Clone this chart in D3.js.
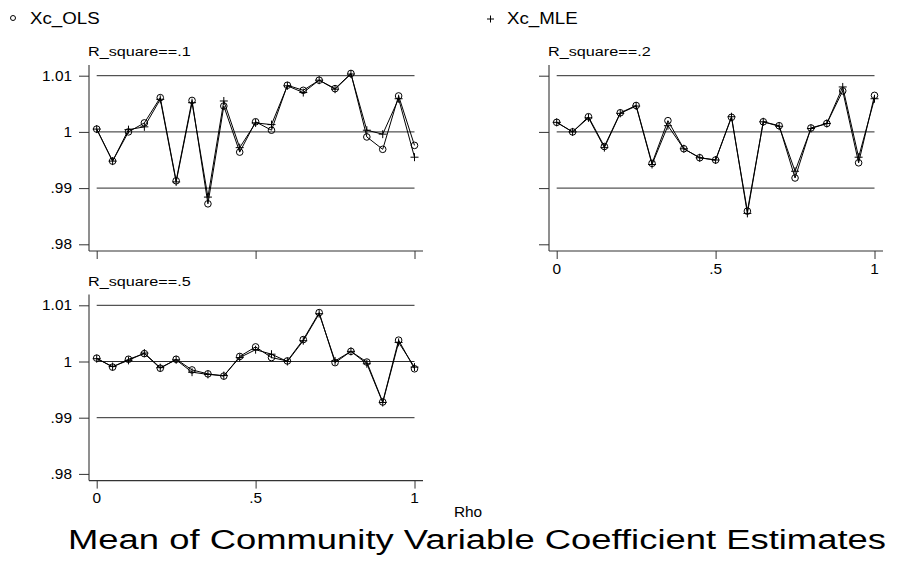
<!DOCTYPE html>
<html>
<head>
<meta charset="utf-8">
<script src="https://cdn.jsdelivr.net/npm/d3@7"></script>
<style>
  html, body { margin: 0; padding: 0; background: #fff; }
  svg { display: block; }
  text { font-family: "Liberation Sans", Arial, Helvetica, sans-serif; fill: #000; }
</style>
</head>
<body>
<svg id="chart" width="903" height="571"></svg>
<script>
// Rho values on the x axis
const rho = [0, 0.05, 0.1, 0.15, 0.2, 0.25, 0.3, 0.35, 0.4, 0.45, 0.5,
             0.55, 0.6, 0.65, 0.7, 0.75, 0.8, 0.85, 0.9, 0.95, 1];

// Mean coefficient estimates, R_square == .1
const ols_r1 = [1.0005, 0.9948, 1.0000, 1.0016, 1.0061, 0.9913, 1.0056, 0.9872, 1.0046, 0.9964, 1.0018,
                1.0003, 1.0083, 1.0074, 1.0092, 1.0077, 1.0104, 0.9991, 0.9969, 1.0064, 0.9976];
const mle_r1 = [1.0005, 0.9948, 1.0004, 1.0009, 1.0058, 0.9911, 1.0052, 0.9884, 1.0055, 0.9972, 1.0016,
                1.0013, 1.0082, 1.0070, 1.0092, 1.0076, 1.0103, 1.0003, 0.9996, 1.0059, 0.9955];

// R_square == .2
const ols_r2 = [1.0017, 1.0000, 1.0027, 0.9974, 1.0034, 1.0047, 0.9944, 1.0020, 0.9970, 0.9954, 0.9950,
                1.0026, 0.9859, 1.0018, 1.0011, 0.9918, 1.0007, 1.0015, 1.0073, 0.9945, 1.0065];
const mle_r2 = [1.0017, 1.0000, 1.0025, 0.9972, 1.0033, 1.0046, 0.9942, 1.0011, 0.9970, 0.9954, 0.9950,
                1.0027, 0.9855, 1.0018, 1.0010, 0.9930, 1.0006, 1.0015, 1.0080, 0.9955, 1.0059];

// R_square == .5
const ols_r5 = [1.0006, 0.9990, 1.0004, 1.0014, 0.9988, 1.0004, 0.9985, 0.9978, 0.9974, 1.0009, 1.0026,
                1.0007, 1.0001, 1.0039, 1.0087, 0.9998, 1.0018, 0.9999, 0.9928, 1.0038, 0.9987];
const mle_r5 = [1.0005, 0.9991, 1.0002, 1.0015, 0.9989, 1.0003, 0.9981, 0.9977, 0.9975, 1.0007, 1.0021,
                1.0013, 1.0000, 1.0037, 1.0085, 1.0001, 1.0018, 0.9996, 0.9927, 1.0034, 0.9990];

// Axis ticks and labels
const yTicks = [0.98, 0.99, 1, 1.01];
const yTickLabels = [".98", ".99", "1", "1.01"];
const yGrid = [0.99, 1, 1.01];
const xTicks = [0, 0.5, 1];
const xTickLabels = ["0", ".5", "1"];

const panelTitles = ["R_square==.1", "R_square==.2", "R_square==.5"];
const legendLabels = ["Xc_OLS", "Xc_MLE"];
const xTitle = "Rho";
const mainTitle = "Mean of Community Variable Coefficient Estimates";

const svg = d3.select("#chart");
svg.append("rect").attr("width", 903).attr("height", 571).attr("fill", "#fff");

// horizontally stretched text helper
function label(g, x, y, str, size, anchor, sx) {
  return g.append("text")
    .attr("transform", `translate(${x},${y}) scale(${sx},1)`)
    .attr("text-anchor", anchor)
    .style("font-size", size + "px")
    .text(str);
}

const panels = [
  { title: panelTitles[0], ols: ols_r1, mle: mle_r1, ox: 0,   oy: 0,     yLabels: true,  xLabels: false },
  { title: panelTitles[1], ols: ols_r2, mle: mle_r2, ox: 460, oy: 0,     yLabels: false, xLabels: true  },
  { title: panelTitles[2], ols: ols_r5, mle: mle_r5, ox: 0,   oy: 229.6, yLabels: true,  xLabels: true  }
];

const axisColor = "#333";
const gridColor = "#2a2a2a";

panels.forEach(p => {
  const g = svg.append("g").attr("transform", `translate(${p.ox},${p.oy})`);
  const x = d3.scaleLinear().domain([0, 1]).range([96.7, 414.5]);
  const y = d3.scaleLinear().domain([0.98, 1.01]).range([244.3, 75.7]);
  const axX = 89, axBottom = 251, axTop = 65, axRight = 423;

  // panel title
  label(g, 88, 56, p.title, 13.5, "start", 1.2);

  // grid lines
  g.selectAll("line.grid").data(yGrid).enter().append("line")
    .attr("x1", x(0)).attr("x2", x(1))
    .attr("y1", d => y(d)).attr("y2", d => y(d))
    .attr("stroke", gridColor).attr("stroke-width", 1);

  // y axis
  const yAxis = d3.axisLeft(y).tickValues(yTicks).tickSize(10).tickFormat("");
  const ya = g.append("g").attr("transform", `translate(${axX},0)`).call(yAxis);
  ya.select(".domain").remove();
  ya.selectAll(".tick line").attr("stroke", axisColor);
  ya.selectAll(".tick text").remove();
  g.append("line").attr("x1", axX).attr("x2", axX).attr("y1", axTop).attr("y2", axBottom)
    .attr("stroke", axisColor).attr("stroke-width", 1.1);
  if (p.yLabels) {
    yTicks.forEach((v, i) => label(g, 72, y(v) + 5, yTickLabels[i], 14, "end", 1.1));
  }

  // x axis
  const xAxis = d3.axisBottom(x).tickValues(xTicks).tickSize(8).tickFormat("");
  const xa = g.append("g").attr("transform", `translate(0,${axBottom})`).call(xAxis);
  xa.select(".domain").remove();
  xa.selectAll(".tick line").attr("stroke", axisColor);
  xa.selectAll(".tick text").remove();
  g.append("line").attr("x1", axX).attr("x2", axRight).attr("y1", axBottom).attr("y2", axBottom)
    .attr("stroke", axisColor).attr("stroke-width", 1.1);
  if (p.xLabels) {
    xTicks.forEach((v, i) => label(g, x(v), 273.5, xTickLabels[i], 14, "middle", 1.1));
  }

  // series lines
  const line = vals => d3.line().x((d, i) => x(rho[i])).y(d => y(d))(vals);
  g.append("path").attr("d", line(p.ols)).attr("fill", "none")
    .attr("stroke", "#000").attr("stroke-width", 1);
  g.append("path").attr("d", line(p.mle)).attr("fill", "none")
    .attr("stroke", "#000").attr("stroke-width", 1);

  // OLS markers: hollow circles
  g.selectAll("circle.ols").data(p.ols).enter().append("circle")
    .attr("cx", (d, i) => x(rho[i])).attr("cy", d => y(d)).attr("r", 3.3)
    .attr("fill", "none").attr("stroke", "#000").attr("stroke-width", 1);

  // MLE markers: plus signs
  g.selectAll("path.mle").data(p.mle).enter().append("path")
    .attr("d", (d, i) => {
      const cx = x(rho[i]), cy = y(d), h = 4;
      return `M${cx - h},${cy}H${cx + h}M${cx},${cy - h}V${cy + h}`;
    })
    .attr("stroke", "#000").attr("stroke-width", 1).attr("fill", "none");
});

// legend
svg.append("circle").attr("cx", 13).attr("cy", 18).attr("r", 2.5)
  .attr("fill", "none").attr("stroke", "#000").attr("stroke-width", 1);
label(svg, 30, 24, legendLabels[0], 17, "start", 1.1);
svg.append("path").attr("d", "M487,19H494M490.5,15.5V22.5")
  .attr("stroke", "#000").attr("stroke-width", 1);
label(svg, 507, 24, legendLabels[1], 17, "start", 1.1);

// axis title and chart title
label(svg, 468, 517, xTitle, 14, "middle", 1.1);
label(svg, 477, 549, mainTitle, 28, "middle", 1.3);
</script>
</body>
</html>
